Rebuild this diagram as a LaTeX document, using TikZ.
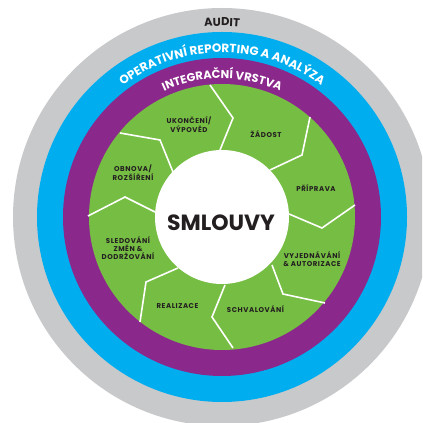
\documentclass[tikz,border=0pt]{standalone}
\usepackage{fontspec}
\usetikzlibrary{decorations.text}
\newfontfamily\popfont{Poppins}
\newfontfamily\poplabel{Poppins}[LetterSpace=8]
\definecolor{auditgray}{RGB}{200,201,203}
\definecolor{reportblue}{RGB}{0,174,239}
\definecolor{integpurple}{RGB}{139,40,140}
\definecolor{phasegreen}{RGB}{118,189,67}
\definecolor{labeltext}{RGB}{35,31,32}

\tikzset{
  phase/.style={font=\poplabel\bfseries\fontsize{7}{8}\selectfont, text=labeltext, align=center, inner sep=0pt},
  divider/.style={color=white, line width=1.6pt},
}

\begin{document}
\begin{tikzpicture}[%
      scale=0.35146,
      ]
      \useasboundingbox (-22.2,-20.6) rectangle (20.0,21.7);
      \clip (-22.2,-20.6) rectangle (20.0,21.7);

      % rings
      \fill [color=auditgray] (0,0) circle (20.9);
      \fill [color=reportblue] (0,0) circle (18.5);
      \fill [color=integpurple] (0,0) circle (15.9);
      \fill [color=phasegreen] (0,0) circle (13.3);

      % phase borders
      \draw [divider] (-1.2,13.2) -- (1.1,9.9) -- (-0.2,6.7);
      \draw [divider] (8.8,10.0) -- (8.0,6.2) -- (4.8,4.7);
      \draw [divider] (13.3,1.2) -- (10.0,-1.1) -- (6.7,0.3);
      \draw [divider] (10.3,-8.6) -- (6.1,-7.7) -- (5.0,-4.8);
      \draw [divider] (1.1,-13.1) -- (-1.0,-10.0) -- (0.3,-6.8);
      \draw [divider] (-8.2,-10.5) -- (-7.6,-6.5) -- (-4.4,-5.1);
      \draw [divider] (-13.4,0.1) -- (-9.7,2.0) -- (-6.7,0.5);
      \draw [divider] (-10.2,8.4) -- (-6.2,7.7) -- (-4.9,4.5);

      \fill [color=white] (0,0) circle (6.7);

      % ring titles
      \path [decorate, decoration={text along path, text align=center,
        text={|\popfont\bfseries\fontsize{11.5}{12}\selectfont\color{labeltext}|AUDIT}}]
        (180:19.1) arc [start angle=180, end angle=0, radius=19.1];
      \path [decorate, decoration={text along path, text align=center,
        text={|\popfont\bfseries\fontsize{12}{12}\selectfont\color{white}|OPERATIVNÍ REPORTING A ANALÝZA}}]
        (180:16.45) arc [start angle=180, end angle=0, radius=16.45];
      \path [decorate, decoration={text along path, text align=center,
        text={|\popfont\bfseries\fontsize{11.5}{12}\selectfont\color{white}|INTEGRAČNÍ VRSTVA}}]
        (180:13.85) arc [start angle=180, end angle=0, radius=13.85];

      % phases
      \node [phase] (ukonceni) at (-3.3,9.2) {UKONČENÍ/\\VÝPOVĚD};
      \node [phase] (zadost) at (4.4,8.3) {ŽÁDOST};
      \node [phase] (priprava) at (9.4,2.9) {PŘÍPRAVA};
      \node [phase] (vyjednavani) at (9.0,-4.2) {VYJEDNÁVÁNÍ\\\& AUTORIZACE};
      \node [phase] (schvalovani) at (3.35,-9.2) {SCHVALOVÁNÍ};
      \node [phase] (realizace) at (-4.45,-8.9) {REALIZACE};
      \node [phase] (sledovani) at (-9.4,-3.1) {SLEDOVÁNÍ\\ZMĚN \&\\DODRŽOVÁNÍ};
      \node [phase] (obnova) at (-8.9,4.4) {OBNOVA/\\ROZŠÍŘENÍ};

      \node [font=\popfont\bfseries\fontsize{22}{22}\selectfont, text=labeltext, inner sep=0pt] (smlouvy) at (-0.1,-0.6) {SMLOUVY};
      \end{tikzpicture}
\end{document}
